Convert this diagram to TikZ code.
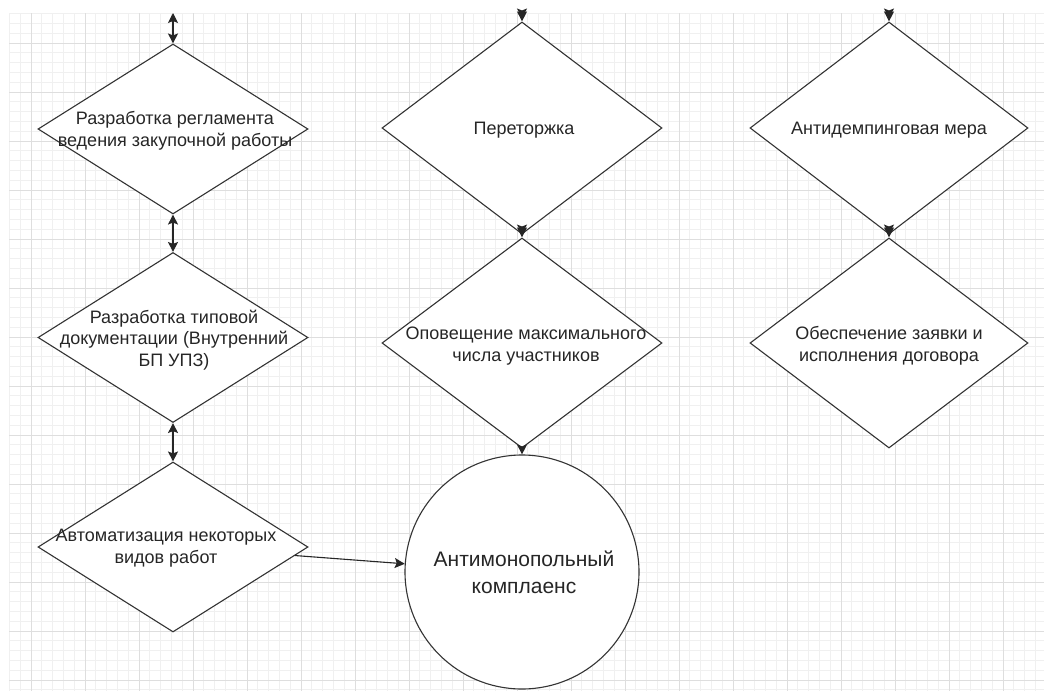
\documentclass[tikz,border=0pt]{standalone}
\usepackage{fontspec}
\setmainfont{Liberation Sans}
\usetikzlibrary{positioning, arrows.meta, shapes.geometric, calc}

\begin{document}
\begin{tikzpicture}[x=1pt, y=-1pt,
    dmd/.style={diamond, draw=black!80, line width=1.1pt, fill=white, inner sep=0pt,
        minimum width=270pt, minimum height=170pt},
    tall/.style={dmd, minimum width=280pt, minimum height=212pt},
    txt/.style={align=center, font=\fontsize{18}{21.5}\selectfont, text=black!85},
    big/.style={align=center, font=\fontsize{21}{27}\selectfont, text=black!85},
    link/.style={line width=1.1pt, black!85, -{Stealth[length=10pt,width=10pt,inset=2pt]}},
    both/.style={link, {Stealth[length=10pt,width=10pt,inset=2pt]}-{Stealth[length=10pt,width=10pt,inset=2pt]}}]

    \useasboundingbox (0,0) rectangle (1044,691);

    % grid
    \begin{scope}
        \clip (9,13) rectangle (1044,691);
        \foreach \i in {0,...,96}
            \draw[black!6, line width=0.8pt] (9.4+10.8*\i,13) -- (9.4+10.8*\i,691);
        \foreach \i in {0,...,69}
            \draw[black!6, line width=0.8pt] (9,13.6+9.8*\i) -- (1044,13.6+9.8*\i);
        \foreach \i in {0,...,18}
            \draw[black!13, line width=1pt] (31+54*\i,13) -- (31+54*\i,691);
        \foreach \i in {0,...,13}
            \draw[black!13, line width=1pt] (9,43+49*\i) -- (1044,43+49*\i);
    \end{scope}

    % left column
    \coordinate (in1) at (173,13);
    \node[dmd] (d1) at (173,129) {};
    \node[dmd] (d2) at (173,337.5) {};
    \node[dmd] (d3) at (173,547) {};
    \node[txt] (l1) at (175,131) {Разработка регламента\\ведения закупочной работы};
    \node[txt] (l2) at (174,340) {Разработка типовой\\документации (Внутренний\\БП УПЗ)};
    \node[txt] (l3) at (166,548) {Автоматизация некоторых\\видов работ};

    % middle column
    \coordinate (in4) at (522,18.5);
    \node[tall] (d4) at (522,128) {};
    \node[tall, minimum height=210pt] (d5) at (522,343) {};
    \node[circle, draw=black!80, line width=1.1pt, fill=white, minimum size=234pt] (circ) at (522,572) {};
    \node[txt] (l4) at (524,130) {Переторжка};
    \node[txt] (l5) at (526,346) {Оповещение максимального\\числа участников};
    \node[big] (l8) at (524,572) {Антимонопольный\\комплаенс};

    % right column
    \coordinate (in6) at (889,18.5);
    \node[tall, minimum width=278pt] (d6) at (889,128) {};
    \node[tall, minimum width=278pt, minimum height=210pt] (d7) at (889,343) {};
    \node[txt] (l6) at (889,130) {Антидемпинговая мера};
    \node[txt] (l7) at (889,346) {Обеспечение заявки и\\исполнения договора};

    \path[both]
        (in1) edge (d1.north)
        (d1.south) edge (d2.north)
        (d2.south) edge (d3.north)
        (in4) edge (d4.north)
        (d4.south) edge (d5.north)
        (in6) edge (d6.north)
        (d6.south) edge (d7.north)
    ;
    \path[link]
        (d5.south) edge (circ.north)
        (d3.-4) edge (circ.176)
    ;
\end{tikzpicture}
\end{document}
